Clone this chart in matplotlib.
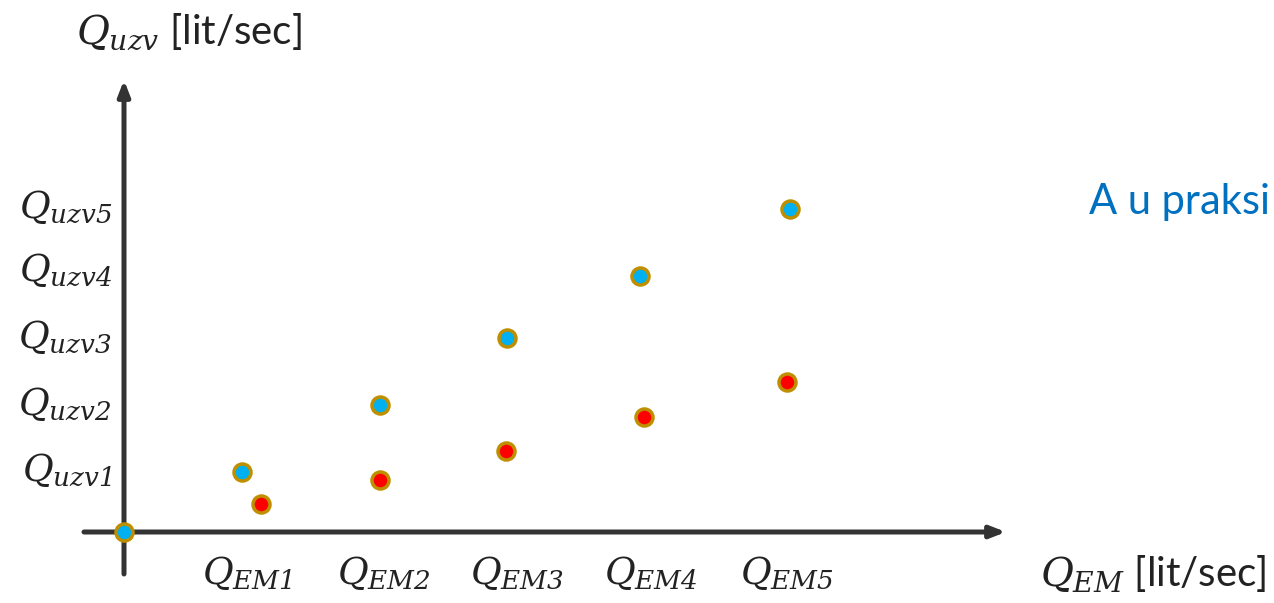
import matplotlib
matplotlib.use("Agg")
import matplotlib.pyplot as plt

# Podaci (jedinice ~ pikseli od ishodista)
plavi_x = [0, 118, 256, 383, 516, 666]
plavi_y = [0, 60, 127, 194, 256, 323]
crveni_x = [137, 256, 382, 520, 663]
crveni_y = [28, 52, 81, 115, 150]

x_oznake = [r"$Q_{EM1}$", r"$Q_{EM2}$", r"$Q_{EM3}$", r"$Q_{EM4}$", r"$Q_{EM5}$"]
x_pozicije = [123, 260, 393, 527, 663]
y_oznake = [r"$Q_{uzv1}$", r"$Q_{uzv2}$", r"$Q_{uzv3}$", r"$Q_{uzv4}$", r"$Q_{uzv5}$"]
y_pozicije = [62, 128, 195, 262, 325]

# kurzivne cifre u indeksima
plt.rcParams["mathtext.fontset"] = "custom"
plt.rcParams["mathtext.rm"] = "DejaVu Serif:italic"
plt.rcParams["mathtext.it"] = "DejaVu Serif:italic"
plt.rcParams["font.family"] = ["Lato", "DejaVu Sans"]

fig = plt.figure(figsize=(12.74, 6.03), dpi=100)
ax = fig.add_axes([0, 0, 1, 1])
ax.set_xlim(-124, 1150)
ax.set_ylim(-71, 532)
ax.axis("off")

boja_osi = "#333333"
# osi sa strelicama
ax.annotate("", xy=(882, 0), xytext=(-40, 0),
            arrowprops=dict(arrowstyle="-|>,head_length=0.9,head_width=0.35",
                            color=boja_osi, lw=3.6, shrinkA=0, shrinkB=0))
ax.annotate("", xy=(0, 452), xytext=(0, -42),
            arrowprops=dict(arrowstyle="-|>,head_length=0.9,head_width=0.35",
                            color=boja_osi, lw=3.6, shrinkA=0, shrinkB=0))

# tacke
ax.scatter(crveni_x, crveni_y, s=150, c="#ff0000", edgecolors="#bf8f00",
           linewidths=2.5, zorder=5)
ax.scatter(plavi_x, plavi_y, s=150, c="#00b0f0", edgecolors="#bf8f00",
           linewidths=2.5, zorder=5)

# oznake
for xp, t in zip(x_pozicije, x_oznake):
    ax.text(xp, -22, t, ha="center", va="top", fontsize=27, color="#222222")
for yp, t in zip(y_pozicije, y_oznake):
    ax.text(-12, yp, t, ha="right", va="center", fontsize=27, color="#222222")

ax.text(-48, 500, r"$Q_{uzv}$ [lit/sec]", ha="left", va="center",
        fontsize=29, color="#222222")
ax.text(916, -42, r"$Q_{EM}$ [lit/sec]", ha="left", va="center",
        fontsize=29, color="#222222")
ax.text(1146, 330, "A u praksi", ha="right", va="center",
        fontsize=30, color="#0070c0")

fig.savefig("out.png", dpi=100)
